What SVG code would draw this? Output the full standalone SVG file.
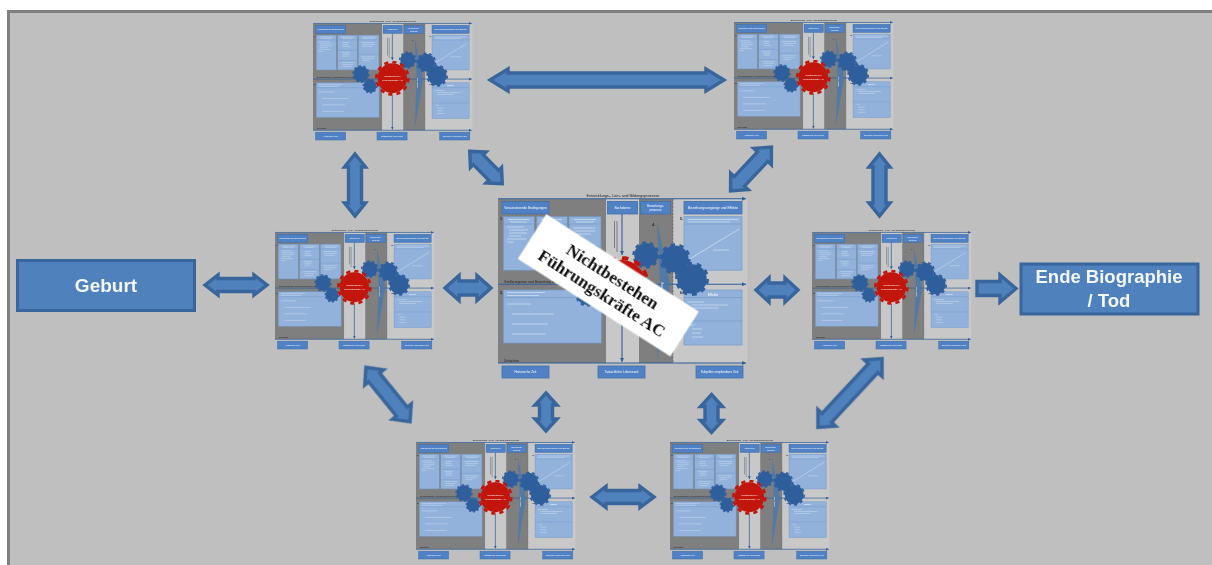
<svg xmlns="http://www.w3.org/2000/svg" width="1212" height="565" viewBox="0 0 1212 565">
<style>
.t{font-family:"Liberation Sans",Arial,sans-serif;fill:#fff;text-anchor:middle}
.k{font-family:"Liberation Sans",Arial,sans-serif;fill:#222}
.dk{fill:#7f7f7f}
.lt{fill:#c8c8c8}
.hd{fill:#4f81c4;stroke:#3f70aa;stroke-width:.8}
.bx{fill:#92b2dc;stroke:#7398c6;stroke-width:.7}
.hr{fill:none;stroke:#7398c6;stroke-width:.7}
.tx{fill:none;stroke:#e6eef8;stroke-width:.8;opacity:.7}
.ax{fill:none;stroke:#2f5f9c;stroke-width:1.1;marker-end:url(#tip)}
.gb{fill:#2f5f9c}
.gbt{fill:none;stroke:#2f5f9c;stroke-width:2.2}
.gr{fill:#c2140c}
.grt{fill:none;stroke:#c2140c;stroke-width:4}
.ar{fill:#4f81bd;stroke:#38659b;stroke-width:3.400;stroke-linejoin:miter}
.nd{fill:#4f81bd;stroke:#38659b;stroke-width:3}
.big{font-family:"Liberation Sans","Open Sans",sans-serif;font-weight:700;fill:#f4f7fb;text-anchor:middle}
.lab{font-family:"Liberation Serif","Times New Roman",serif;font-weight:700;fill:#111;text-anchor:middle;font-size:17.500px}
.soft{filter:url(#blur)}
.soft2{filter:url(#blur2)}
</style>
<defs>
<filter id="blur" x="-5%" y="-5%" width="110%" height="110%"><feGaussianBlur stdDeviation=".6"/></filter>
<filter id="blur2" x="-5%" y="-5%" width="110%" height="110%"><feGaussianBlur stdDeviation=".45"/></filter>
<marker id="tip" markerWidth="5" markerHeight="5" refX="4" refY="2" orient="auto"><path d="M0 0L4 2L0 4Z" fill="#2f5f9c"/></marker>
<g id="gear-blue"><circle r="11.800" class="gb"/><circle r="12.500" class="gbt" pathLength="20" stroke-dasharray="1 1"/></g>
<g id="gear-red"><circle r="23" class="gr"/><circle r="25" class="grt" pathLength="24" stroke-dasharray="1 1"/></g>
<g id="panel">
<rect x="0" y="1" width="108" height="164" class="dk"/>
<rect x="108" y="1" width="33" height="164" class="lt"/>
<rect x="141" y="1" width="34" height="164" class="dk"/>
<rect x="175" y="1" width="74" height="164" class="lt"/>
<path d="M175 1V165" fill="none" stroke="#666" stroke-width=".7" stroke-dasharray="2 1.5"/>
<text x="125" y="-1.5" class="k" font-size="3.800" text-anchor="middle">Entwicklungs-, Lern- und Bildungsprozesse</text>
<rect x="4" y="3.5" width="47" height="12.5" class="hd"/><text x="27.5" y="11" class="t" font-size="3.200">Voraussetzende Bedingungen</text>
<rect x="109.5" y="3.5" width="30" height="12.5" class="hd"/><text x="124.5" y="11" class="t" font-size="3.200">Sachebene</text>
<rect x="142.5" y="3.5" width="30" height="12.5" class="hd"/><text x="157.5" y="9" class="t" font-size="3">Bewertungs-</text><text x="157.5" y="13.2" class="t" font-size="3">prozesse</text>
<rect x="186" y="3.5" width="58" height="12.5" class="hd"/><text x="215" y="11" class="t" font-size="3.400">Beziehungsvorgänge und Effekte</text>
<text x="2" y="22" class="k" font-size="3.6" font-weight="700">1.</text>
<rect x="5.3" y="18.7" width="31" height="53.5" class="bx"/><path d="M5.3 26h31" class="hr"/>
<rect x="38.7" y="18.7" width="30.5" height="53.5" class="bx"/><path d="M38.7 26h30.5M38.7 42h30.5M38.7 58h30.5" class="hr"/>
<rect x="71" y="18.7" width="32" height="53.5" class="bx"/><path d="M71 26h32M71 48h32" class="hr"/>
<path d="M10 21.5h21M12 24h17M9 29h17M11 32h19M11 35h18M11 38h12M9 41h19M9 44h7M43 21.5h21M46 24h15M46 30h10M46 33h9M46 36h12M44 45h14M46 48h11M46 51h10M44 61h20M46 64h16M46 67h14M76 21.5h22M78 24h18M75 30h22M77 33h20M77 36h16M75 52h22M77 55h18M77 58h12" class="tx"/>
<path d="M0 86.3H248" class="ax"/>
<text x="6" y="84.8" class="k" font-size="3.4">Großereignisse und Bewertung der Situation</text>
<text x="2" y="96" class="k" font-size="3.6" font-weight="700">2.</text>
<rect x="5.3" y="92" width="98" height="53" class="bx"/><path d="M5.3 99.5h98" class="hr"/>
<path d="M9 94.5h38M9 97.5h32M9 106h24M14 116h42M14 126h36M14 136h34" class="tx"/>
<path d="M124 16V57" class="ax"/><path d="M124 111V164" class="ax"/>
<path d="M119 23V54M116.5 23V50" fill="none" stroke="#39465a" stroke-width=".8" opacity=".75"/>
<path d="M159 24L172 86L159 162L162 86Z" fill="#4a78ae" opacity=".85"/>
<text x="0" y="0" class="t" font-size="3.2" transform="translate(164.500,92) rotate(-90)">Bewertung</text>
<text x="157" y="28" class="k" font-size="3.4" font-weight="700" text-anchor="end">4.</text>
<text x="182" y="22" class="k" font-size="3.6" font-weight="700">5.</text>
<rect x="186" y="18.7" width="58" height="53.500" class="bx"/><path d="M186 26h58" class="hr"/>
<path d="M190 21.5h50M190 24h42M190 62L241 31M215 52h16" class="tx"/>
<text x="182" y="96" class="k" font-size="3.6" font-weight="700">6.</text>
<rect x="186" y="92" width="58" height="55" class="bx"/><path d="M186 99.500h58M186 123h58" class="hr"/>
<text x="215" y="97.500" class="t" font-size="3.4">Effekte</text>
<path d="M190 104h16M194 107h36M194 110h26M192 127h4M194 131h10M194 135h9M194 139h11" class="tx"/>
<use href="#gear-blue" transform="translate(148,57)"/>
<use href="#gear-blue" transform="translate(177,61) scale(1.15)"/>
<use href="#gear-blue" transform="translate(194,81) scale(1.25)"/>
<use href="#gear-blue" transform="translate(75,78.5)"/>
<use href="#gear-blue" transform="translate(89,97) scale(.85)"/>
<use href="#gear-red" transform="translate(124,85)"/>
<text x="124" y="83.5" class="t" font-size="3.9">Nichtbestehen</text>
<text x="124" y="88.500" class="t" font-size="3.9">Führungskräfte AC</text>
<path d="M0 165H248" class="ax"/><path d="M0 .7H248" class="ax"/>
<text x="6" y="163.500" class="k" font-size="3.4">Zeitachse</text>
<rect x="4" y="168" width="47" height="12" class="hd"/><text x="27.5" y="175" class="t" font-size="3.2">Historische Zeit</text>
<rect x="100" y="168" width="47" height="12" class="hd"/><text x="123.5" y="175" class="t" font-size="3.2">Tatsächliche Lebenszeit</text>
<rect x="198" y="168" width="47" height="12" class="hd"/><text x="221.500" y="175" class="t" font-size="3.200">Subjektiv empfundene Zeit</text>
</g>
</defs>
<rect width="1212" height="565" fill="#fff"/>
<rect x="8.500" y="11.500" width="1230" height="580" fill="#bfbfbf" stroke="#7f7f7f" stroke-width="3"/>
<g id="connectors" class="soft2">
<polygon class="ar" transform="translate(607,80)" points="-117,0 -99,-11 -99,-7 99,-7 99,-11 117,0 99,11 99,7 -99,7 -99,11"/>
<polygon class="ar" transform="translate(355,185) rotate(90)" points="-31,0 -18,-10.500 -18,-6.500 18,-6.500 18,-10.500 31,0 18,10.500 18,6.500 -18,6.500 -18,10.500"/>
<polygon class="ar" transform="translate(486,167.500) rotate(45)" points="-23,0 -11,-11 -11,-7 11,-7 11,-11 23,0 11,11 11,7 -11,7 -11,11"/>
<polygon class="ar" transform="translate(468,288)" points="-23,0 -9,-12.500 -9,-7 9,-7 9,-12.500 23,0 9,12.500 9,7 -9,7 -9,12.500"/>
<polygon class="ar" transform="translate(388,394.500) rotate(51)" points="-35,0 -22,-12 -22,-7 22,-7 22,-12 35,0 22,12 22,7 -22,7 -22,12"/>
<polygon class="ar" transform="translate(546,412) rotate(90)" points="-19,0 -7,-11 -7,-6.500 7,-6.500 7,-11 19,0 7,11 7,6.500 -7,6.500 -7,11"/>
<polygon class="ar" transform="translate(751,169) rotate(-47)" points="-30,0 -17,-12 -17,-7 17,-7 17,-12 30,0 17,12 17,7 -17,7 -17,12"/>
<polygon class="ar" transform="translate(879.500,185) rotate(90)" points="-31,0 -18,-10.500 -18,-6.500 18,-6.500 18,-10.500 31,0 18,10.500 18,6.500 -18,6.500 -18,10.500"/>
<polygon class="ar" transform="translate(777,290)" points="-21,0 -8,-12 -8,-7 8,-7 8,-12 21,0 8,12 8,7 -8,7 -8,12"/>
<polygon class="ar" transform="translate(711.500,413.500) rotate(90)" points="-19,0 -7,-11 -7,-6.500 7,-6.500 7,-11 19,0 7,11 7,6.500 -7,6.500 -7,11"/>
<polygon class="ar" transform="translate(850,393) rotate(-47)" points="-47,0 -34,-12 -34,-6.500 34,-6.500 34,-12 47,0 34,12 34,6.500 -34,6.500 -34,12"/>
<polygon class="ar" transform="translate(623,497)" points="-31,0 -17,-10.500 -17,-6.500 17,-6.500 17,-10.500 31,0 17,10.500 17,6.500 -17,6.500 -17,10.500"/>
<polygon class="ar" transform="translate(236,285)" points="-31,0 -18,-10 -18,-6.500 18,-6.500 18,-10 31,0 18,10 18,6.500 -18,6.500 -18,10"/>
<polygon class="ar" points="977,281.500 1000,281.500 1000,275 1016,288.500 1000,302 1000,295.500 977,295.500"/>
</g>
<g id="geburt" class="soft2"><rect x="17.500" y="260.500" width="177" height="50" class="nd"/><text x="106" y="292" class="big" font-size="19">Geburt</text></g>
<g id="ende" class="soft2"><rect x="1021" y="264" width="177" height="50" class="nd"/><text x="1109" y="282.500" class="big" font-size="18.500">Ende Biographie</text><text x="1109" y="307" class="big" font-size="18.500">/ Tod</text></g>
<g id="node-top-left" class="soft"><use href="#panel" transform="translate(313,23) scale(.64,.65)"/></g>
<g id="node-top-right" class="soft"><use href="#panel" transform="translate(734,22) scale(.64,.65)"/></g>
<g id="node-mid-left" class="soft"><use href="#panel" transform="translate(275,232) scale(.64,.65)"/></g>
<g id="node-mid-right" class="soft"><use href="#panel" transform="translate(812,232) scale(.64,.65)"/></g>
<g id="node-bottom-left" class="soft"><use href="#panel" transform="translate(416,442) scale(.64,.65)"/></g>
<g id="node-bottom-right" class="soft"><use href="#panel" transform="translate(670,442) scale(.64,.65)"/></g>
<g id="node-center">
<g class="soft"><use href="#panel" transform="translate(498,198)"/></g>
<g id="label-nichtbestehen" class="soft2" transform="translate(608.300,285.300) rotate(32.600)">
<rect x="-90.500" y="-26.500" width="181" height="53" fill="#fff"/>
<text x="-1" y="-4.500" class="lab">Nichtbestehen</text>
<text x="-1" y="15.500" class="lab">Führungskräfte AC</text>
</g>
</g>
</svg>
